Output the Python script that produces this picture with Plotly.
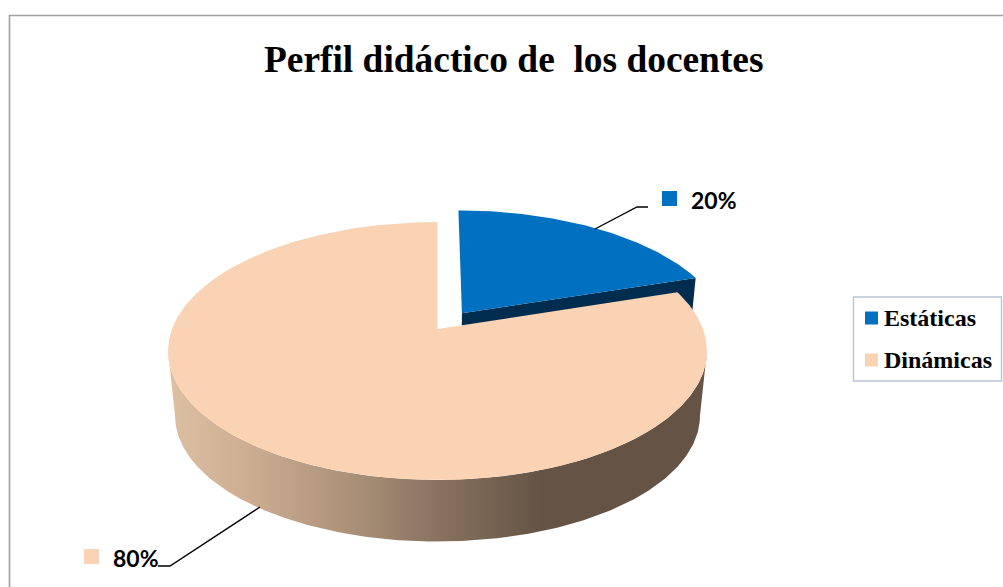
import numpy as np
import plotly.graph_objects as go

# ---- data ----
categories = ["Estáticas", "Dinámicas"]
values = [20, 80]
colors = ["#0070C0", "#FAD3B4"]
side_color_blue = "#002C50"
title_text = "Perfil didáctico de \u00a0los docentes"

# ---- projection of the tilted disc onto the page (page pixels) ----
CX, CY = 437.5, 329.0      # image of disc centre
A, B, K = 265.5, 125.2, 0.1705
LOW_S, LOW_CY = 0.974, 394.5  # lower face of the disc
EXPLODE = 0.16


def project(theta, r=1.0, eu=0.0, ev=0.0):
    u = r * np.sin(theta) + eu
    v = r * np.cos(theta) + ev
    d = 1 + K * v
    return CX + A * u / d, CY - B * v / d


def lower(x, y):
    return CX + (x - CX) * LOW_S, LOW_CY + (y - CY) * LOW_S


share = np.array(values) / sum(values)
blue_end = share[0] * 2 * np.pi
bis = blue_end / 2
eu, ev = EXPLODE * np.sin(bis), EXPLODE * np.cos(bis)

fig = go.Figure()


def poly(xs, ys, color, name, gradient=None):
    fig.add_trace(go.Scatter(
        x=list(xs), y=list(ys), mode="lines", fill="toself", fillcolor=color,
        fillgradient=gradient,
        line=dict(color=color, width=0), showlegend=False, name=name,
        hoverinfo="skip"))


# exploded slice: dark wall, then top face
ax, ay = project(0.0, 0.0, eu, ev)
tx, ty = project(blue_end, 1.0, eu, ev)
alx, aly = lower(ax, ay)
tlx, tly = lower(tx, ty)
poly([ax, tx, tlx, alx, ax], [ay, ty, tly, aly, ay], side_color_blue, categories[0])
th = np.linspace(0, blue_end, 80)
bx, by = project(th, 1.0, eu, ev)
poly(np.r_[ax, bx, ax], np.r_[ay, by, ay], colors[0], categories[0])

# big slice: shaded wall over the visible front arc, then top face
shade_start, shade_stop = 170, 710
shade_scale = [[0.0, "#DDBFA3"], [0.148, "#CCAD92"], [0.333, "#AC9179"],
               [0.5, "#87725F"], [0.685, "#655445"], [1.0, "#655446"]]
arc_right = np.arccos(-K)
wall = np.linspace(arc_right, 2 * np.pi - arc_right, 240)
wx, wy = project(wall)
lx, ly = lower(wx, wy)
poly(np.r_[wx, lx[::-1], wx[0]], np.r_[wy, ly[::-1], wy[0]], "#87725F", categories[1],
     gradient=dict(type="horizontal", colorscale=shade_scale, start=shade_start, stop=shade_stop))
th = np.linspace(blue_end, 2 * np.pi, 300)
sx, sy = project(th)
poly(np.r_[CX, sx, CX], np.r_[CY, sy, CY], colors[1], categories[1])

# leader lines
leader_x = [[595, 637, 648], [260, 170, 158]]
leader_y = [[229, 207, 207], [507, 566, 566]]
for lx_, ly_ in zip(leader_x, leader_y):
    fig.add_trace(go.Scatter(x=lx_, y=ly_, mode="lines", line=dict(color="#000000", width=1.4),
                             showlegend=False, hoverinfo="skip"))

# label keys and legend keys
key_x = [669.5, 91.5]
key_y = [198.5, 556.5]
leg_key_x = [871.5, 871.5]
leg_key_y = [318, 360]
for i in range(2):
    fig.add_trace(go.Scatter(x=[key_x[i]], y=[key_y[i]], mode="markers", showlegend=False,
                             marker=dict(symbol="square", size=15, color=colors[i]),
                             name=categories[i], hoverinfo="skip"))
    fig.add_trace(go.Scatter(x=[leg_key_x[i]], y=[leg_key_y[i]], mode="markers", showlegend=False,
                             marker=dict(symbol="square", size=13, color=colors[i]),
                             name=categories[i], hoverinfo="skip"))

annotations = []
label_x = [690, 112]
label_y = [200, 558]
for i in range(2):
    annotations.append(dict(x=label_x[i], y=label_y[i], xref="x", yref="y", xanchor="left", yanchor="middle",
                            text=f"<b>{values[i]}%</b>", showarrow=False, borderpad=0,
                            font=dict(family="Lato", size=23, color="#000000")))
    annotations.append(dict(x=883, y=leg_key_y[i], xref="x", yref="y", xanchor="left", yanchor="middle",
                            text=f"<b>{categories[i]}</b>", showarrow=False, borderpad=0,
                            font=dict(family="Liberation Serif", size=24, color="#000000")))
annotations.append(dict(x=513.5, y=59, xref="x", yref="y", xanchor="center", yanchor="middle",
                        text=f"<b>{title_text}</b>", showarrow=False, borderpad=0,
                        font=dict(family="Liberation Serif", size=37.4, color="#000000")))

shapes = [
    dict(type="line", xref="x", yref="y", x0=9.5, x1=9.5, y0=15, y1=587, line=dict(color="#A0A0A0", width=1.6)),
    dict(type="line", xref="x", yref="y", x0=9, x1=1003, y0=15.5, y1=15.5, line=dict(color="#A0A0A0", width=1.6)),
    dict(type="rect", xref="x", yref="y", x0=853.5, x1=1001.5, y0=297, y1=381,
         line=dict(color="#B9C3D3", width=1.4), fillcolor="rgba(0,0,0,0)"),
]

fig.update_layout(
    width=1003, height=587, autosize=False,
    margin=dict(l=0, r=0, t=0, b=0),
    paper_bgcolor="#FFFFFF", plot_bgcolor="#FFFFFF",
    xaxis=dict(range=[0, 1003], visible=False, fixedrange=True),
    yaxis=dict(range=[587, 0], visible=False, fixedrange=True),
    annotations=annotations, shapes=shapes, showlegend=False,
)
fig.write_html("out.html", config=dict(displayModeBar=False),
               post_script="document.body.style.margin='0';document.body.style.overflow='hidden';")
